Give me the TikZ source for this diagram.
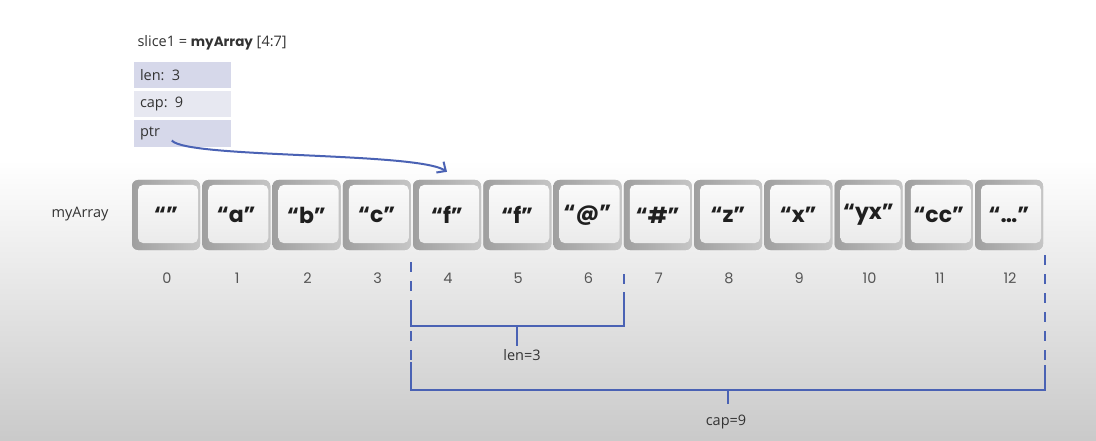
\documentclass[tikz,border=0pt]{standalone}
\usepackage{fontspec}
\setmainfont{Open Sans}
\newfontfamily\keyfont{Poppins}
\usetikzlibrary{arrows.meta}
\definecolor{slblue}{HTML}{4A62B4}
\definecolor{rowdark}{HTML}{D6D8EA}
\definecolor{rowlight}{HTML}{E7E8F1}
\definecolor{idxgray}{HTML}{555555}

\begin{document}
\begin{tikzpicture}[x=1pt, y=-1pt,
	keycap/.style={rounded corners=6pt, minimum width=68pt, minimum height=70pt, inner sep=0pt,
		fill=gray!55, text=black!88, font=\keyfont\bfseries\fontsize{22}{22}\selectfont,
		path picture={
			\shade[left color=gray!75, right color=gray!45]
				(path picture bounding box.north west) rectangle (path picture bounding box.south east);
			\shade[top color=gray!4, bottom color=gray!16, rounded corners=5pt]
				([shift={(6,5)}]path picture bounding box.north west) rectangle
				([shift={(-2,-7)}]path picture bounding box.south east);}},
	field/.style={minimum width=97pt, minimum height=26.5pt, text width=85pt, inner xsep=6pt,
		align=left, text=black!80, font=\fontsize{14.5}{16}\selectfont},
	idx/.style={text=idxgray, font=\keyfont\fontsize{14.5}{16}\selectfont},
	guide/.style={slblue, line width=2pt, dash pattern=on 10pt off 9pt},
	brace/.style={slblue, line width=2pt},
	lbl/.style={text=black!80, font=\fontsize{14.5}{16}\selectfont}]
	\useasboundingbox (0,0) rectangle (1096,441);
	\fill[white] (0,0) rectangle (1096,441);
	\shade[top color=white, bottom color=gray!42] (0,160) rectangle (1096,441);

	\node[lbl, anchor=west] (title) at (134,43) {slice1 = {\keyfont\bfseries\fontsize{13.5}{16}\selectfont myArray} [4:7]};
	\node[field, fill=rowdark] (len) at (182.5,75) {len: 3};
	\node[field, fill=rowlight] (cap) at (182.5,104) {cap: 9};
	\node[field, fill=rowdark] (ptr) at (182.5,133.5) {ptr};

	\node[lbl] (arrname) at (80,214) {myArray};
	\foreach \v [count=\i from 0] in {“”, “a”, “b”, “c”, “f”, “f”, “@”, “\#”, “z”, “x”, “yx”, “cc”, “…”} {
		\node[keycap] (cell\i) at ({166+70.25*\i}, 215) {\v};
		\node[idx] (idx\i) at ({167+70.25*\i}, 278) {\i};
	}

	% ptr points at element 4
	\draw[brace, -{Straight Barb[length=7pt, width=13pt]}] ([shift={(38,7)}]ptr.west)
		.. controls +(15,18) and +(-30,-20) .. ([yshift=8pt]cell4.north);

	% len bracket
	\coordinate (lenL0) at (411,262);
	\coordinate (lenL1) at (411,300);
	\coordinate (lenL) at (411,326);
	\coordinate (lenR0) at (624,274);
	\coordinate (lenR1) at (624,292);
	\coordinate (lenR) at (624,326);
	\coordinate (lenmid) at (517,326);
	\node[lbl] (lenlbl) at (522,355) {len=3};
	\draw[guide] (lenL0) -- (lenL1);
	\draw[guide] (lenR0) -- (lenR1);
	\draw[brace] (lenL1) -- (lenL) -- (lenR) -- (lenR1);
	\draw[brace] (lenmid) -- (lenmid |- lenlbl.north);

	% cap bracket
	\coordinate (capL0) at (411,331);
	\coordinate (capL1) at (411,362);
	\coordinate (capL) at (411,390);
	\coordinate (capR0) at (1045,255);
	\coordinate (capR1) at (1045,365);
	\coordinate (capR) at (1045,390);
	\coordinate (capmid) at (728,390);
	\coordinate (captick) at (728,404);
	\node[lbl] (caplbl) at (726,422) {cap=9};
	\draw[guide] (capL0) -- (capL1);
	\draw[guide] (capR0) -- (capR1);
	\draw[brace] (capL1) -- (capL) -- (capR) -- (capR1);
	\draw[brace] (capmid) -- (captick);
\end{tikzpicture}
\end{document}
